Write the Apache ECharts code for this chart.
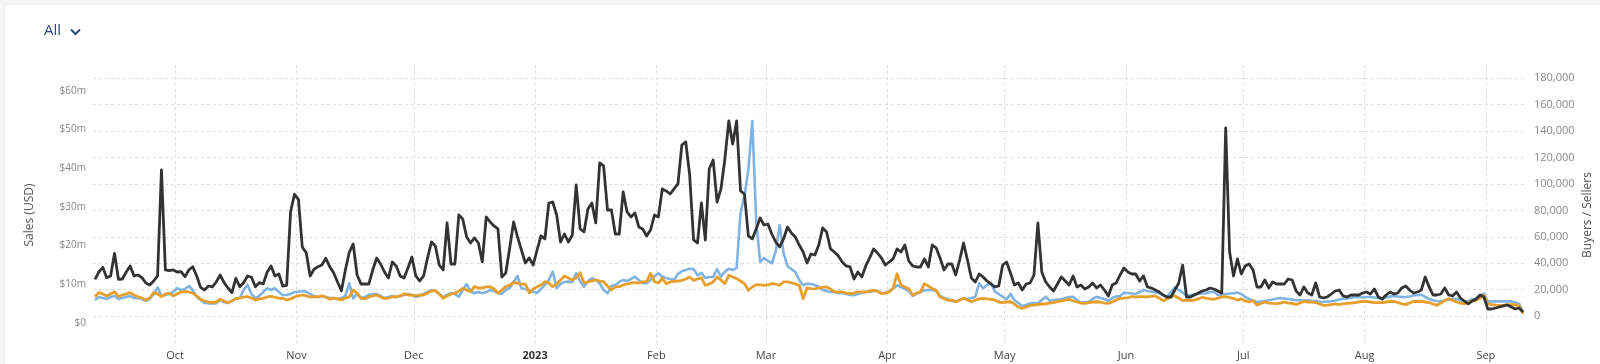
<!DOCTYPE html>
<html><head><meta charset="utf-8">
<script src="https://cdn.jsdelivr.net/npm/echarts@6/dist/echarts.min.js"></script>
<style>
html,body{margin:0;padding:0;background:#f6f6f6;width:1600px;height:364px;overflow:hidden;}
#card{position:absolute;left:5px;top:5px;width:1595px;height:359px;background:#fff;box-shadow:0 0 4px rgba(0,0,0,0.07);}
#chart{position:absolute;left:0;top:0;width:1600px;height:364px;}
</style></head><body><div id="card"></div><div id="chart"></div>
<script>
// first day of the daily series (year, monthIndex, day)
const startDate = [2022, 8, 10];
const monthNames = ['Jan','Feb','Mar','Apr','May','Jun','Jul','Aug','Sep','Oct','Nov','Dec'];
const monthTicks = ['2022-10-01','2022-11-01','2022-12-01','2023-01-01','2023-02-01','2023-03-01','2023-04-01','2023-05-01','2023-06-01','2023-07-01','2023-08-01','2023-09-01'];
const salesTicks = [0,10,20,30,40,50,60];
const countTicks = [0,20000,40000,60000,80000,100000,120000,140000,160000,180000];

// Sales (USD millions), daily
const salesUSDm = [
11.24,13.13,14.35,11.66,12.1,17.97,11.24,11.32,13.13,14.69,
12.1,12.35,11.66,10.28,9.76,10.8,12.1,39.55,13.65,13.47,
13.65,13.13,13.21,11.91,13.65,14.5,12.1,9.17,8.47,9.5,
9.25,10.54,12.35,10.36,8.99,7.77,11.5,9.32,10.36,12.1,
11.76,9.32,10.36,10.02,13.05,14.69,12.1,12.61,9.5,9.69,
28.75,33.26,31.96,19.53,18.13,12.1,13.83,14.5,14.94,16.68,
14.5,12.95,10.54,8.29,13.65,18.23,20.38,12.35,10.02,10.02,
10.02,13.65,16.76,15.2,13.13,11.58,15.72,14.69,12.1,11.58,
14.17,17.02,12.1,10.8,12.1,16.76,20.9,19.87,14.94,13.65,
25.82,15.2,15.2,27.89,26.86,22.2,20.64,21.94,20.64,15.72,
27.38,26.08,25.05,24.27,11.84,12.87,19.35,26.08,22.2,18.83,
15.46,16.76,14.94,18.83,22.46,21.68,31.0,31.26,27.89,20.9,
22.97,20.9,22.71,35.66,24.27,23.49,29.45,31.0,25.82,41.36,
40.59,29.19,29.19,22.97,22.97,33.85,28.67,27.38,28.41,24.79,
24.27,22.46,24.01,27.89,27.38,34.63,34.11,33.33,34.63,35.92,
46.02,46.8,38.25,21.42,20.64,31.0,21.42,39.81,42.14,31.26,
34.63,42.4,52.24,46.28,52.24,34.11,33.33,22.46,21.68,24.27,
27.12,25.3,25.56,22.97,20.9,19.61,21.68,24.79,23.23,22.2,
20.12,18.31,15.46,17.79,17.53,20.12,24.53,23.49,19.09,18.31,
17.28,15.72,14.69,14.43,11.32,13.13,11.84,14.69,16.76,19.09,
18.05,16.76,14.94,15.72,16.5,19.09,18.31,20.12,15.98,14.69,
14.43,14.43,16.5,14.43,20.12,19.35,16.76,13.65,15.2,15.2,
12.35,16.24,20.64,16.24,11.58,10.54,12.61,11.84,10.8,10.02,
9.25,9.5,14.94,15.72,12.87,9.76,10.28,8.47,10.02,10.28,
12.35,25.82,13.13,10.54,9.25,8.21,10.02,11.84,10.8,9.76,
12.1,9.25,9.76,8.73,9.25,10.28,8.99,9.76,8.47,6.92,
9.76,10.28,12.35,14.17,13.13,12.61,12.61,10.8,12.1,9.25,
8.99,8.47,7.95,7.17,6.66,6.66,8.47,10.28,14.94,6.66,
6.66,7.17,7.69,8.21,8.47,8.99,8.73,8.21,7.69,50.43,
18.31,12.1,16.5,12.61,14.69,15.2,13.65,9.25,9.25,11.06,
8.99,10.54,10.02,10.02,10.02,11.32,11.06,8.21,7.17,9.25,
7.69,7.17,10.28,6.66,6.4,6.66,7.43,8.21,8.47,6.92,
6.66,7.17,7.17,7.17,7.69,7.95,7.43,8.73,6.66,6.14,
7.17,7.95,7.43,7.69,8.99,9.5,8.47,7.69,7.95,8.47,
11.84,9.25,7.17,7.17,7.43,8.99,7.17,6.92,7.95,6.4,
5.62,4.84,5.62,6.14,7.17,6.66,3.55,3.55,3.81,4.07,
4.33,4.58,4.07,3.55,3.81,2.77
];

// Buyers, daily
const buyers = [
12100,14400,13600,12900,14400,15200,12900,13600,14400,15200,
13600,13600,12900,11400,12900,16700,21700,15200,15900,16700,
18200,21000,19700,20500,22700,19700,14600,12100,9800,9600,
9600,9600,12100,10600,9800,11400,12900,13600,19700,23500,
16700,13600,15200,18200,21000,19700,21000,18200,15900,15900,
16700,18200,18400,18900,18400,16700,15200,14400,15200,14400,
13600,13600,12900,13600,15200,24800,13400,16700,13600,14400,
15900,16700,16700,15200,13600,14400,15200,14400,15200,15900,
16700,15900,14400,15200,16700,18200,19700,18900,16700,14400,
15900,17400,16700,14600,19700,24200,18900,17200,18200,17200,
18200,19700,18900,17400,16700,19700,21200,25800,30300,21000,
20500,19700,18400,17400,20500,23500,27300,33600,21200,24200,
25800,26000,25800,32300,26500,22200,26500,28600,27300,24800,
19700,17200,22700,23500,25800,27300,26500,28000,29800,27300,
24800,24800,27300,30300,32300,29800,28800,28000,27300,31800,
33900,34800,35800,35600,30800,32600,28800,29500,29500,35600,
29800,33600,35800,34800,36400,78000,90900,110600,147700,72700,
40900,43900,41700,39900,49200,68900,47700,37900,35600,33300,
27300,23300,24500,24200,23500,22000,19700,18900,18200,18200,
17400,17400,16700,15900,15700,16700,17400,18200,18200,18900,
18900,17400,17400,18900,20700,23300,22000,20500,18900,15200,
16700,18200,19500,19700,19700,18900,15200,13600,12900,11400,
10800,12100,13400,12900,13600,14600,24800,21000,23500,25200,
18400,16700,14600,12700,16700,12100,9800,7600,8300,9600,
9600,9600,12100,14600,11600,12100,12500,12700,13600,14400,
14600,12100,10100,10600,10800,12900,14600,13600,12900,11600,
13600,14800,15200,17700,17400,17000,16700,18200,19700,18900,
18400,17800,17200,15900,14600,18200,21700,19700,17700,15200,
15900,16300,16700,17000,17200,18200,18400,15900,16300,16700,
17000,17200,17700,16700,14400,12900,11700,10600,11000,11400,
11900,12500,13300,13600,13300,12900,12500,11900,11900,11700,
11900,11600,11400,10600,10600,11000,11100,11700,12500,13100,
13300,13600,14400,14400,14000,14400,14400,14000,13600,13100,
14000,14800,15200,14800,14400,14400,14800,15500,15900,16100,
14400,12900,11900,11400,11100,11700,12500,12900,13100,12100,
10600,11400,12500,13100,15200,16900,11100,11100,11100,11100,
11100,11100,11100,10200,9300,3000
];

// Sellers, daily
const sellers = [
14600,17700,16700,15200,16700,18400,14600,15900,16700,17700,
15900,14600,13600,12100,13600,17700,16700,14600,16700,17200,
15200,16700,18200,18400,18200,17200,15200,12700,11400,10600,
10100,10600,12700,11400,10100,11400,13400,13600,14400,14600,
13600,12100,12900,13400,14400,14800,14200,13600,13400,12100,
12900,14400,15200,15900,15200,14400,14600,14400,15200,14400,
12700,13600,12900,12100,13600,14400,19700,17400,13400,12900,
14400,15200,15900,14400,13400,13600,14600,14400,15200,16700,
15900,15900,15200,15900,15900,17400,18900,19200,16700,13400,
15200,16700,17200,18900,21000,19700,18400,22200,21200,21200,
22000,22200,20500,17200,19700,22200,23500,25200,25000,24200,
24200,17700,20500,22200,23500,26000,25000,22200,24200,27300,
30300,28800,27300,28800,32800,24800,25800,26500,27300,26500,
26000,22700,19700,22000,22200,23500,24200,25000,25200,25000,
25800,26000,32300,26000,25000,28600,24500,25800,26300,26500,
27000,28000,29500,27000,28000,28800,23300,24200,25800,29500,
27300,24500,30800,29500,28300,26500,24500,19500,22000,23700,
23500,23300,23500,24500,24200,23300,25800,25800,25200,24200,
23300,13100,21200,20700,20500,21200,21600,22000,20500,18200,
18200,18200,17400,16900,17400,18200,18200,18200,18900,19500,
18900,16900,17400,18200,21200,32000,23300,22000,20700,15700,
17400,18200,24500,22700,20700,19500,14400,13300,11900,12100,
10800,12100,13400,12100,10800,12100,12900,13400,12900,12700,
12100,10600,10100,10600,10800,9100,6800,5800,6800,8000,
8300,8700,9100,9100,9800,10200,10800,11400,12100,12700,
11400,10600,9800,9600,10200,10600,10800,10600,9800,9600,
10600,12100,13400,13600,14000,14600,14400,14600,14600,14400,
14800,15200,13600,11600,12900,14400,15200,13600,11600,12100,
11700,12100,12900,14200,13600,12900,12700,13600,14400,14600,
14000,13400,12100,12900,11400,10600,11700,8300,9500,10600,
9800,9500,9300,9800,10600,9800,9500,8600,9800,11000,
10600,10600,10200,9100,8100,8300,8700,9100,8600,9100,
9500,9800,10100,10600,11000,11100,10600,10200,10100,10200,
10600,11000,11100,10200,9100,8600,9800,11000,11100,11000,
10600,10200,9100,8100,9800,11700,13100,11700,10600,9800,
9300,10200,11400,11900,13600,15700,9300,8700,8300,8100,
8300,8600,8600,8600,7600,1700
];

const FONT = '"Open Sans", "Noto Sans", "DejaVu Sans", sans-serif';
const dayTime = i => new Date(startDate[0], startDate[1], startDate[2] + i, 12).getTime();
const toPairs = arr => arr.map((v, i) => [dayTime(i), v]);
const monthTickTimes = monthTicks.map(s => { const p = s.split('-').map(Number); return new Date(p[0], p[1] - 1, p[2]).getTime(); });
const xMin = new Date(startDate[0], startDate[1], startDate[2]).getTime();
const xMax = new Date(startDate[0], startDate[1], startDate[2] + salesUSDm.length).getTime();

const chart = echarts.init(document.getElementById('chart'));
chart.setOption({
  animation: false,
  textStyle: { fontFamily: FONT },
  grid: { left: 93, right: 75, top: 65, bottom: 21 },
  xAxis: {
    type: 'value',
    min: xMin,
    max: xMax,
    axisLine: { show: false },
    axisTick: { show: false, customValues: monthTickTimes },
    axisLabel: {
      customValues: monthTickTimes,
      color: '#444',
      fontSize: 11,
      fontFamily: FONT,
      margin: 7,
      formatter: function (v) {
        const d = new Date(v);
        return d.getMonth() === 0 ? '{yr|' + d.getFullYear() + '}' : monthNames[d.getMonth()];
      },
      rich: { yr: { fontWeight: 'bold', color: '#333', fontSize: 11, fontFamily: FONT } }
    },
    splitLine: { show: true, lineStyle: { color: '#dedede', type: [3, 3], width: 1 } }
  },
  yAxis: [
    {
      type: 'value', position: 'left', min: -5.257, max: 66.733,
      axisLine: { show: false },
      axisTick: { show: false, customValues: salesTicks },
      axisLabel: {
        customValues: salesTicks, color: '#888', fontSize: 10, fontFamily: FONT, margin: 7,
        formatter: v => '$' + v + (v === 0 ? '' : 'm')
      },
      splitLine: { show: false }
    },
    {
      type: 'value', position: 'right', min: -20448, max: 190098,
      axisLine: { show: false },
      axisTick: { show: false, customValues: countTicks },
      axisLabel: {
        customValues: countTicks, color: '#888', fontSize: 11, fontFamily: FONT, margin: 9,
        formatter: v => v.toLocaleString('en-US')
      },
      splitLine: { show: true, lineStyle: { color: '#dedede', type: [3, 3], width: 1 } }
    }
  ],
  series: [
    { name: 'Buyers', type: 'line', yAxisIndex: 1, data: toPairs(buyers), showSymbol: false,
      lineStyle: { color: '#7fb3e3', width: 2.6, join: 'round' }, itemStyle: { color: '#7fb3e3' } },
    { name: 'Sellers', type: 'line', yAxisIndex: 1, data: toPairs(sellers), showSymbol: false,
      lineStyle: { color: '#e79f2c', width: 2.8, join: 'round' }, itemStyle: { color: '#e79f2c' } },
    { name: 'Sales (USD)', type: 'line', yAxisIndex: 0, data: toPairs(salesUSDm), showSymbol: false,
      lineStyle: { color: '#333333', width: 2.8, join: 'round' }, itemStyle: { color: '#333333' } }
  ],
  graphic: [
    { type: 'text', left: 44, top: 23, style: { text: 'All', fill: '#2b4a7c', fontSize: 15, fontFamily: FONT } },
    { type: 'polyline', shape: { points: [[71, 29.5], [75.5, 34], [80, 29.5]] }, style: { stroke: '#2b4a7c', lineWidth: 2, fill: null } },
    { type: 'text', x: 30, y: 215, rotation: Math.PI / 2,
      style: { text: 'Sales (USD)', fill: '#555', fontSize: 12, fontFamily: FONT, align: 'center', verticalAlign: 'middle' } },
    { type: 'text', x: 1588, y: 215, rotation: Math.PI / 2,
      style: { text: 'Buyers / Sellers', fill: '#555', fontSize: 12, fontFamily: FONT, align: 'center', verticalAlign: 'middle' } }
  ]
});
</script></body></html>
